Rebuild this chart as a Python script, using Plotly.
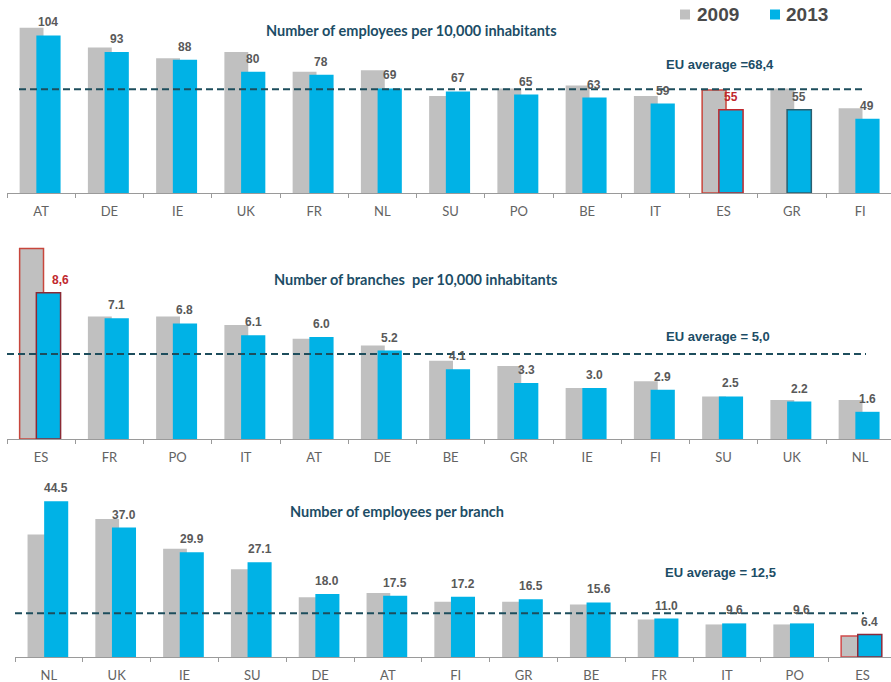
import plotly.graph_objects as go

# ---- data -------------------------------------------------------------
years = ["2009", "2013"]

emp_cats = ["AT", "DE", "IE", "UK", "FR", "NL", "SU", "PO", "BE", "IT", "ES", "GR", "FI"]
emp_2009 = [109, 96, 89, 93, 80, 81, 64, 69, 71, 64, 68, 69, 56]
emp_2013 = [104, 93, 88, 80, 78, 69, 67, 65, 63, 59, 55, 55, 49]
emp_labels = ["104", "93", "88", "80", "78", "69", "67", "65", "63", "59", "55", "55", "49"]
emp_avg = 68.4

br_cats = ["ES", "FR", "PO", "IT", "AT", "DE", "BE", "GR", "IE", "FI", "SU", "UK", "NL"]
br_2009 = [11.2, 7.2, 7.2, 6.7, 5.9, 5.5, 4.6, 4.3, 3.0, 3.4, 2.5, 2.3, 2.3]
br_2013 = [8.6, 7.1, 6.8, 6.1, 6.0, 5.2, 4.1, 3.3, 3.0, 2.9, 2.5, 2.2, 1.6]
br_labels = ["8,6", "7.1", "6.8", "6.1", "6.0", "5.2", "4.1", "3.3", "3.0", "2.9", "2.5", "2.2", "1.6"]
br_avg = 5.0

epb_cats = ["NL", "UK", "IE", "SU", "DE", "AT", "FI", "GR", "BE", "FR", "IT", "PO", "ES"]
epb_2009 = [35.0, 39.4, 30.9, 25.1, 17.1, 18.3, 15.8, 15.8, 15.0, 10.7, 9.3, 9.3, 6.0]
epb_2013 = [44.5, 37.0, 29.9, 27.1, 18.0, 17.5, 17.2, 16.5, 15.6, 11.0, 9.6, 9.6, 6.4]
epb_labels = ["44.5", "37.0", "29.9", "27.1", "18.0", "17.5", "17.2", "16.5", "15.6", "11.0", "9.6", "9.6", "6.4"]
epb_avg = 12.5

titles = [
    "Number of employees per 10,000 inhabitants",
    "Number of branches  per 10,000 inhabitants",
    "Number of employees per branch",
]
avg_texts = ["EU average =68,4", "EU average = 5,0", "EU average = 12,5"]

# ---- styling ----------------------------------------------------------
W, H = 891, 682
GREY = "#c0c0c0"
BLUE = "#00b2e6"
TEAL = "#1c4d66"
DASH = "#1d4d5c"
RED = "#c0282d"
LABEL = "#595959"

GREY_OFF, GREY_W = -0.315, 0.35
BLUE_OFF, BLUE_W = -0.07, 0.355


def px(x):
    return x / W


def py(y):
    return 1 - y / H


# per panel: categories, values, labels, average, highlight styles,
# left edge px, category pitch px, baseline px, top px, px per unit
panels = [
    dict(cats=emp_cats, v09=emp_2009, v13=emp_2013, lab=emp_labels, avg=emp_avg,
         left=7, pitch=68.25, base=193, top=0, scale=1.515,
         red_label="ES", out09={"ES": "#c8463c"}, out13={"ES": "#c0282d", "GR": "#2c5e6e"},
         line_x=(19, 864), title_xy=(411, 31), avg_xy=(720, 64), label_dx={}),
    dict(cats=br_cats, v09=br_2009, v13=br_2013, lab=br_labels, avg=br_avg,
         left=7, pitch=68.25, base=439, top=232, scale=17.0,
         red_label="ES", out09={"ES": "#c8463c"}, out13={"ES": "#8b2a35"},
         line_x=(7, 866), title_xy=(415, 279), avg_xy=(718, 336), label_dx={"ES": 12}),
    dict(cats=epb_cats, v09=epb_2009, v13=epb_2013, lab=epb_labels, avg=epb_avg,
         left=15, pitch=67.8, base=657, top=470, scale=3.5,
         red_label=None, out09={"ES": "#d0494a"}, out13={"ES": "#8b2a3a"},
         line_x=(15, 864), title_xy=(397, 511), avg_xy=(720, 572), label_dx={}),
]

fig = go.Figure()
layout = dict(
    width=W, height=H,
    margin=dict(l=0, r=0, t=0, b=0),
    paper_bgcolor="white", plot_bgcolor="rgba(0,0,0,0)",
    barmode="overlay", showlegend=False,
    shapes=[], annotations=[],
)

for i, p in enumerate(panels, start=1):
    xa = "x" if i == 1 else f"x{i}"
    ya = "y" if i == 1 else f"y{i}"
    x_hi = (W - p["left"]) / p["pitch"] - 0.5
    y_hi = (p["base"] - p["top"]) / p["scale"]

    def outline(mapping, cats=p["cats"]):
        cols = [mapping.get(c, "rgba(0,0,0,0)") for c in cats]
        widths = [1.5 if c in mapping else 0 for c in cats]
        return dict(color=cols, width=widths)

    fig.add_trace(go.Bar(
        x=p["cats"], y=p["v09"], name=years[0], xaxis=xa, yaxis=ya,
        offset=GREY_OFF, width=GREY_W,
        marker=dict(color=GREY, line=outline(p["out09"])),
        hoverinfo="skip",
    ))
    fig.add_trace(go.Bar(
        x=p["cats"], y=p["v13"], name=years[1], xaxis=xa, yaxis=ya,
        offset=BLUE_OFF, width=BLUE_W,
        marker=dict(color=BLUE, line=outline(p["out13"])),
        hoverinfo="skip",
    ))

    key = "" if i == 1 else str(i)
    layout["xaxis" + key] = dict(
        domain=[px(p["left"]), 1], range=[-0.5, x_hi], anchor=ya,
        type="category", showgrid=False, zeroline=False,
        showline=True, linecolor="#9a9a9a", linewidth=1,
        ticks="outside", tickson="boundaries", ticklen=4, tickcolor="#9a9a9a",
        ticklabelstandoff=6,
        tickfont=dict(family="Lato, Open Sans, sans-serif", size=13, color="#636363"),
        fixedrange=True,
    )
    layout["yaxis" + key] = dict(
        domain=[py(p["base"]), py(p["top"])], range=[0, y_hi], anchor=xa,
        visible=False, showgrid=False, zeroline=False, fixedrange=True,
    )

    # EU average line
    x0 = (p["line_x"][0] - p["left"]) / p["pitch"] - 0.5
    x1 = (p["line_x"][1] - p["left"]) / p["pitch"] - 0.5
    layout["shapes"].append(dict(
        type="line", xref=xa, yref=ya, x0=x0, x1=x1, y0=p["avg"], y1=p["avg"],
        line=dict(color=DASH, width=2, dash="7px,4px"), layer="above",
    ))

    # value labels above the 2013 bars
    shift = (BLUE_OFF + BLUE_W / 2) * p["pitch"]
    for c, v, t in zip(p["cats"], p["v13"], p["lab"]):
        layout["annotations"].append(dict(
            x=c, y=v, xref=xa, yref=ya, text=t, showarrow=False,
            xshift=shift + p["label_dx"].get(c, 0), yshift=13, yanchor="middle",
            font=dict(family="Liberation Sans, Arial, sans-serif", size=12,
                      color=RED if c == p["red_label"] else LABEL, weight="bold"),
        ))

    # panel title and average caption
    tx, ty = p["title_xy"]
    layout["annotations"].append(dict(
        x=px(tx), y=py(ty), xref="paper", yref="paper", text=f"<b>{titles[i-1]}</b>",
        showarrow=False, xanchor="center", yanchor="middle",
        font=dict(family="Lato, Open Sans, sans-serif", size=14.5, color=TEAL),
    ))
    ax_, ay_ = p["avg_xy"]
    layout["annotations"].append(dict(
        x=px(ax_), y=py(ay_), xref="paper", yref="paper", text=f"<b>{avg_texts[i-1]}</b>",
        showarrow=False, xanchor="center", yanchor="middle",
        font=dict(family="Liberation Sans, Arial, sans-serif", size=13, color=TEAL),
    ))

# legend: colour swatch + year
for (sx, tx), col, yr in zip([(680, 695), (770, 784)], [GREY, BLUE], years):
    layout["shapes"].append(dict(
        type="rect", xref="paper", yref="paper",
        x0=px(sx), x1=px(sx + 10), y0=py(19.5), y1=py(9.5),
        fillcolor=col, line=dict(width=0),
    ))
    layout["annotations"].append(dict(
        x=px(tx), y=py(15), xref="paper", yref="paper", text=f"<b>{yr}</b>",
        showarrow=False, xanchor="left", yanchor="middle",
        font=dict(family="Liberation Sans, Arial, sans-serif", size=19, color="#4a4a4a"),
    ))

fig.update_layout(**layout)
fig.write_html("out.html")
